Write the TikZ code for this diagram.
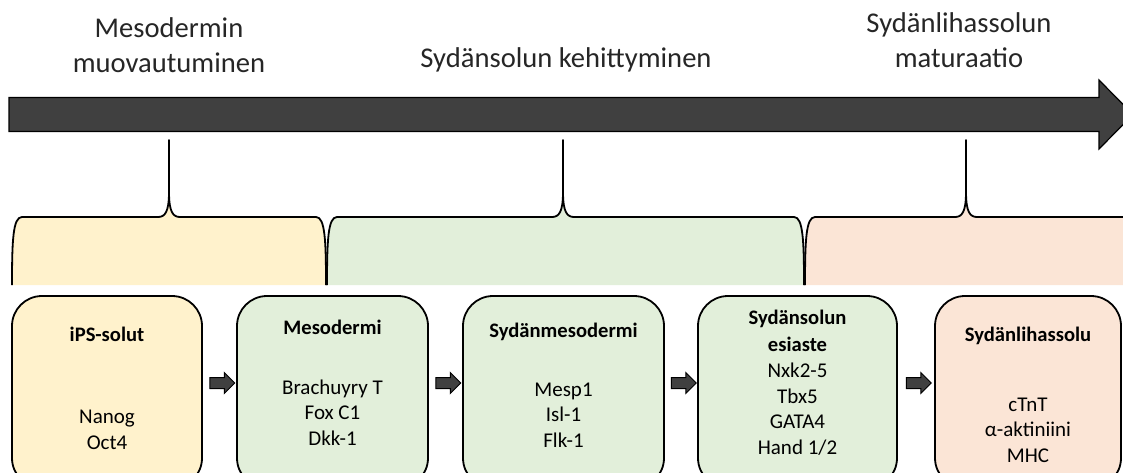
\documentclass[tikz,border=0pt]{standalone}
\usepackage{fontspec}
\setmainfont{Carlito}
\usetikzlibrary{shapes.arrows, calc, positioning}
\definecolor{ipsyellow}{HTML}{FFF2CC}
\definecolor{mesogreen}{HTML}{E2EFDA}
\definecolor{cmpeach}{HTML}{FBE5D6}
\definecolor{arrowgray}{HTML}{404040}

\begin{document}
\begin{tikzpicture}[x=1pt, y=-1pt,
  phase/.style={font=\fontsize{28.6}{35}\selectfont, align=center, inner sep=0pt, text=black!85, anchor=base},
  cellbox/.style={draw, line width=1.8pt, rounded corners=30pt, minimum height=192pt, inner sep=0pt},
  celltitle/.style={font=\fontsize{20.6}{26.5}\selectfont\bfseries, align=center, inner sep=0pt, anchor=base},
  cellmark/.style={font=\fontsize{21}{25.5}\selectfont, align=center, inner sep=0pt, anchor=base},
  stagearrow/.style={single arrow, draw, fill=arrowgray, line width=1pt, inner sep=5pt,
    minimum height=25pt, minimum width=20pt, single arrow head extend=5pt}]
  \useasboundingbox (0,0) rectangle (1123,472);

  % Timeline arrow
  \draw[line width=1.2pt, fill=arrowgray] (9,97.5) -- (1099,97.5) -- (1099,80) -- (1133,114.5)
    -- (1099,149) -- (1099,131.5) -- (9,131.5) -- cycle;

  % Phase titles (base = last line)
  \node[phase] (p1) at (169,72) {Mesodermin\\muovautuminen};
  \node[phase] (p2) at (566,67) {Sydänsolun kehittyminen};
  \node[phase] (p3) at (959,67) {Sydänlihassolun\\maturaatio};

  % Braces (left / right / spike)
  \foreach \bl/\br/\bs/\bcol in {12/326/169/ipsyellow, 327/804/563/mesogreen, 805/1140/966/cmpeach}{
    \fill[\bcol] (\bl,285) .. controls (\bl,240) and (\bl+1,217) .. (\bl+10,217) -- (\bs-11,217)
      .. controls (\bs-4,217) and (\bs,212) .. (\bs,192) -- (\bs,140) -- (\bs,192)
      .. controls (\bs,212) and (\bs+4,217) .. (\bs+11,217) -- (\br-10,217)
      .. controls (\br-1,217) and (\br,240) .. (\br,285) -- cycle;
    \draw[line width=1.8pt, line join=round] (\bl,285) .. controls (\bl,240) and (\bl+1,217) .. (\bl+10,217) -- (\bs-11,217)
      .. controls (\bs-4,217) and (\bs,212) .. (\bs,192) -- (\bs,140) -- (\bs,192)
      .. controls (\bs,212) and (\bs+4,217) .. (\bs+11,217) -- (\br-10,217)
      .. controls (\br-1,217) and (\br,240) .. (\br,285);
  }

  % Cell stages
  \foreach \k/\cx/\cw/\ccol in {1/107/190/ipsyellow, 2/332.5/191/mesogreen,
      3/563.5/201/mesogreen, 4/797.5/199/mesogreen, 5/1028/186/cmpeach}
    \node[cellbox, fill=\ccol, minimum width=\cw pt] (b\k) at (\cx,392) {};

  \node[celltitle] (t1) at ([yshift=-46pt]b1.north) {iPS-solut};
  \node[cellmark]  (m1) at ([yshift=-154pt]b1.north) {Nanog\\Oct4};
  \node[celltitle] (t2) at ([yshift=-39pt]b2.north) {Mesodermi};
  \node[cellmark]  (m2) at ([yshift=-150pt]b2.north) {Brachuyry T\\Fox C1\\Dkk-1};
  \node[celltitle] (t3) at ([yshift=-42pt]b3.north) {Sydänmesodermi};
  \node[cellmark]  (m3) at ([yshift=-152pt]b3.north) {Mesp1\\Isl-1\\Flk-1};
  \node[celltitle] (t4) at ([yshift=-56pt]b4.north) {Sydänsolun\\esiaste};
  \node[cellmark]  (m4) at ([yshift=-159pt]b4.north) {Nxk2-5\\Tbx5\\GATA4\\Hand 1/2};
  \node[celltitle] (t5) at ([yshift=-46pt]b5.north) {Sydänlihassolu};
  \node[cellmark]  (m5) at ([yshift=-167pt]b5.north) {cTnT\\α-aktiniini\\MHC};

  % Step arrows
  \foreach \i/\j in {1/2, 2/3, 3/4, 4/5}
    \node[stagearrow] (a\i) at ($(b\i.east)!0.5!(b\j.west) + (0,-9)$) {};
\end{tikzpicture}
\end{document}
